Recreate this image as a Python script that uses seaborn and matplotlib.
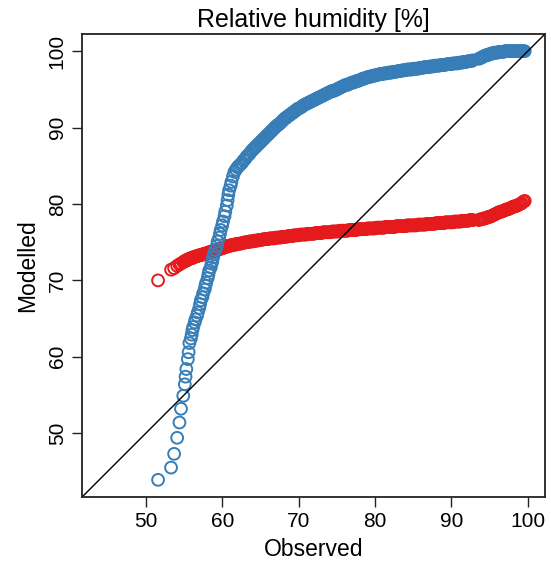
import matplotlib
matplotlib.use("Agg")
import matplotlib.pyplot as plt
import seaborn as sns

# quantiles (observed vs two model runs)
observed = [
    51.6, 53.3, 53.7, 54.1, 54.4, 54.6, 54.9, 55.1, 55.2, 55.3, 55.5, 55.6,
    55.7, 55.9, 56.0, 56.1, 56.2, 56.4, 56.5, 56.7, 56.8, 57.0, 57.1, 57.2,
    57.4, 57.5, 57.7, 57.8, 57.9, 58.1, 58.2, 58.3, 58.5, 58.6, 58.7, 58.8,
    58.9, 59.1, 59.3, 59.4, 59.6, 59.7, 59.8, 60.0, 60.1, 60.3, 60.4, 60.6,
    60.7, 60.8, 60.9, 61.1, 61.2, 61.4, 61.6,
    61.8, 62.0, 62.2, 62.4, 62.6, 62.8, 63.0, 63.2, 63.4, 63.6, 63.8,
    64.0, 64.2, 64.4, 64.6, 64.8, 65.0, 65.2, 65.4, 65.6, 65.8,
    66.0, 66.2, 66.4, 66.6, 66.8, 67.0, 67.2, 67.4, 67.6, 67.8,
    68.0, 68.2, 68.4, 68.6, 68.8, 69.0, 69.2, 69.4, 69.6, 69.8,
    70.0, 70.2, 70.4, 70.6, 70.8, 71.0, 71.2, 71.4, 71.6, 71.8,
    72.0, 72.2, 72.4, 72.6, 72.8, 73.0, 73.2, 73.4, 73.6, 73.8,
    74.0, 74.2, 74.4, 74.6, 74.8, 75.0, 75.2, 75.4, 75.6, 75.8,
    76.0, 76.2, 76.4, 76.6, 76.8, 77.0, 77.2, 77.4, 77.6, 77.8,
    78.0, 78.2, 78.4, 78.6, 78.8, 79.0, 79.2, 79.4, 79.6, 79.8,
    80.0, 80.2, 80.4, 80.6, 80.8, 81.0, 81.2, 81.4, 81.6, 81.8,
    82.0, 82.2, 82.4, 82.6, 82.8, 83.0, 83.2, 83.4, 83.6, 83.8,
    84.0, 84.2, 84.4, 84.6, 84.8, 85.0, 85.2, 85.4, 85.6, 85.8,
    86.0, 86.2, 86.4, 86.6, 86.8, 87.0, 87.2, 87.4, 87.6, 87.8,
    88.0, 88.2, 88.4, 88.6, 88.8, 89.0, 89.2, 89.4, 89.6, 89.8,
    90.0, 90.2, 90.4, 90.6, 90.8, 91.0, 91.2, 91.4, 91.6, 91.8,
    92.0, 92.2, 92.4, 92.6, 92.8,
    93.6, 93.8, 94.0, 94.2, 94.4, 94.6, 94.8, 95.0, 95.2, 95.4,
    95.6, 95.8, 96.0, 96.2, 96.4, 96.6, 96.8, 97.0, 97.2, 97.4,
    97.6, 97.8, 98.0, 98.2, 98.4, 98.6, 98.8, 99.0, 99.2, 99.4, 99.6,
]
model_blue = [
    43.9, 45.5, 47.3, 49.4, 51.4, 53.2, 54.9, 56.4, 57.4, 58.4, 59.7, 60.6,
    61.8, 62.4, 62.9, 63.5, 63.9, 64.5, 64.9, 65.4, 65.8, 66.4, 66.9, 67.4,
    67.8, 68.3, 68.8, 69.3, 69.7, 70.3, 70.8, 71.3, 71.7, 72.2, 72.5, 73.0,
    73.4, 74.0, 74.5, 75.1, 75.6, 76.1, 76.6, 77.2, 77.7, 78.4, 79.0, 79.8,
    80.5, 81.2, 81.8, 82.4, 82.9, 83.6, 84.2,
    84.5, 84.8, 85.0, 85.2, 85.4, 85.7, 85.9, 86.2, 86.4, 86.6, 86.9,
    87.1, 87.3, 87.5, 87.7, 87.9, 88.1, 88.3, 88.5, 88.7, 88.9,
    89.1, 89.3, 89.5, 89.7, 89.9, 90.1, 90.3, 90.4, 90.6, 90.8,
    91.0, 91.2, 91.3, 91.5, 91.6, 91.8, 91.9, 92.1, 92.2, 92.4,
    92.5, 92.6, 92.7, 92.9, 93.0, 93.1, 93.2, 93.3, 93.4, 93.5,
    93.6, 93.7, 93.8, 93.9, 94.0, 94.1, 94.2, 94.3, 94.4, 94.5,
    94.6, 94.7, 94.8, 94.8, 94.9, 95.0, 95.1, 95.2, 95.3, 95.4,
    95.5, 95.6, 95.6, 95.7, 95.8, 95.9, 95.9, 96.0, 96.1, 96.1,
    96.2, 96.3, 96.4, 96.4, 96.5, 96.6, 96.6, 96.7, 96.7, 96.8,
    96.8, 96.9, 96.9, 97.0, 97.0, 97.0, 97.1, 97.1, 97.1, 97.2,
    97.2, 97.2, 97.3, 97.3, 97.3, 97.4, 97.4, 97.4, 97.5, 97.5,
    97.5, 97.6, 97.6, 97.6, 97.6, 97.7, 97.7, 97.7, 97.7, 97.8,
    97.8, 97.8, 97.9, 97.9, 97.9, 97.9, 98.0, 98.0, 98.0, 98.1,
    98.1, 98.1, 98.1, 98.2, 98.2, 98.2, 98.2, 98.3, 98.3, 98.3,
    98.3, 98.4, 98.4, 98.4, 98.4, 98.5, 98.5, 98.5, 98.6, 98.6,
    98.6, 98.7, 98.7, 98.7, 98.8,
    99.0, 99.1, 99.2, 99.3, 99.4, 99.5, 99.5, 99.6, 99.7, 99.7,
    99.8, 99.8, 99.8, 99.9, 99.9, 99.9, 99.9, 100.0, 100.0, 100.0,
    100.0, 100.0, 100.0, 100.0, 100.0, 100.0, 100.0, 100.0, 100.0, 100.0, 100.0,
]
model_red = [
    70.0, 71.4, 71.6, 71.9, 72.1, 72.2, 72.4, 72.5, 72.6, 72.6, 72.7, 72.8,
    72.8, 72.9, 72.9, 73.0, 73.0, 73.1, 73.1, 73.2, 73.2, 73.3, 73.3, 73.3,
    73.4, 73.4, 73.5, 73.5, 73.5, 73.6, 73.6, 73.7, 73.7, 73.8, 73.8, 73.8,
    73.9, 73.9, 74.0, 74.0, 74.1, 74.1, 74.2, 74.2, 74.3, 74.3, 74.4, 74.4,
    74.5, 74.5, 74.5, 74.6, 74.6, 74.6, 74.7,
    74.7, 74.8, 74.8, 74.8, 74.9, 74.9, 75.0, 75.0, 75.0, 75.1, 75.1,
    75.1, 75.2, 75.2, 75.2, 75.3, 75.3, 75.3, 75.4, 75.4, 75.4,
    75.4, 75.5, 75.5, 75.5, 75.5, 75.6, 75.6, 75.6, 75.6, 75.7,
    75.7, 75.7, 75.7, 75.8, 75.8, 75.8, 75.8, 75.9, 75.9, 75.9,
    75.9, 76.0, 76.0, 76.0, 76.0, 76.0, 76.1, 76.1, 76.1, 76.1,
    76.1, 76.2, 76.2, 76.2, 76.2, 76.2, 76.3, 76.3, 76.3, 76.3,
    76.3, 76.3, 76.4, 76.4, 76.4, 76.4, 76.4, 76.5, 76.5, 76.5,
    76.5, 76.5, 76.5, 76.6, 76.6, 76.6, 76.6, 76.6, 76.6, 76.7,
    76.7, 76.7, 76.7, 76.7, 76.7, 76.8, 76.8, 76.8, 76.8, 76.8,
    76.8, 76.9, 76.9, 76.9, 76.9, 76.9, 76.9, 77.0, 77.0, 77.0,
    77.0, 77.0, 77.0, 77.0, 77.1, 77.1, 77.1, 77.1, 77.1, 77.1,
    77.1, 77.2, 77.2, 77.2, 77.2, 77.2, 77.2, 77.2, 77.3, 77.3,
    77.3, 77.3, 77.3, 77.3, 77.4, 77.4, 77.4, 77.4, 77.4, 77.4,
    77.5, 77.5, 77.5, 77.5, 77.5, 77.5, 77.6, 77.6, 77.6, 77.6,
    77.6, 77.6, 77.7, 77.7, 77.7, 77.7, 77.7, 77.8, 77.8, 77.8,
    77.8, 77.8, 77.9, 77.9, 77.9,
    77.9, 78.0, 78.0, 78.1, 78.1, 78.2, 78.3, 78.3, 78.4, 78.5,
    78.6, 78.7, 78.8, 78.9, 79.0, 79.0, 79.1, 79.2, 79.3, 79.3,
    79.4, 79.5, 79.6, 79.7, 79.7, 79.8, 79.9, 80.0, 80.1, 80.3, 80.4,
]

blue = "#377EB8"
red = "#E41A1C"
ticks = [50, 60, 70, 80, 90, 100]

sns.set_theme(style="white")
plt.rcParams["font.family"] = ["Liberation Sans", "DejaVu Sans"]
plt.rcParams["text.color"] = "black"
plt.rcParams["axes.labelcolor"] = "black"

fig, ax = plt.subplots(figsize=(5.51, 5.67), dpi=100)
fig.subplots_adjust(left=0.149, right=0.989, top=0.940, bottom=0.1235)

marker_kw = dict(marker="o", facecolor="none", s=72, linewidth=1.4, ax=ax, legend=False)
sns.scatterplot(x=observed, y=model_red, color=red, edgecolor=red, **marker_kw)
sns.scatterplot(x=observed, y=model_blue, color=blue, edgecolor=blue, **marker_kw)

lo = min(observed + model_blue + model_red)
hi = max(observed + model_blue + model_red)
pad = 0.04 * (hi - lo)
ax.set_xlim(lo - pad, hi + pad)
ax.set_ylim(lo - pad, hi + pad)
ax.axline((lo, lo), (hi, hi), color="black", linewidth=1.0, zorder=1)

ax.set_xticks(ticks)
ax.set_yticks(ticks)
ax.tick_params(direction="out", length=7, width=1.0, color="#222222",
               labelcolor="black", labelsize=15, pad=4, bottom=True, left=True)
for lab in ax.get_yticklabels():
    lab.set_rotation(90)
    lab.set_va("center")
for spine in ax.spines.values():
    spine.set_color("#222222")
    spine.set_linewidth(1.3)

ax.set_title("Relative humidity [%]", fontsize=18, pad=5)
ax.set_xlabel("Observed", fontsize=16.5, labelpad=5)
ax.set_ylabel("Modelled", fontsize=16.5, labelpad=6)

fig.savefig("out.png", dpi=100)
